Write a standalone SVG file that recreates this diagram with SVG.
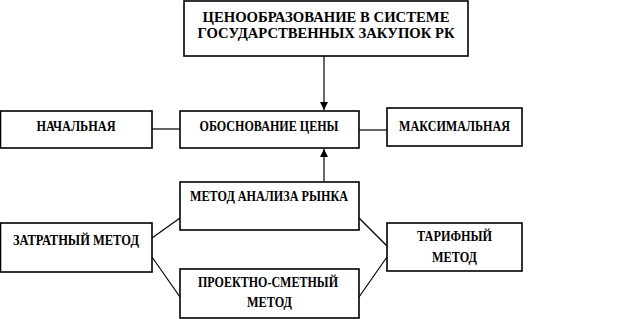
<svg xmlns="http://www.w3.org/2000/svg" width="633" height="319" viewBox="0 0 633 319">
<style>
.box{fill:#fff;stroke:#000;stroke-width:1.6}
.t{font-family:"Liberation Serif","Times New Roman",serif;font-weight:bold;font-size:14px;text-anchor:middle;fill:#000}
.big{font-size:15px}
.c{stroke:#000;stroke-width:1.2;fill:none}
</style>
<defs>
<marker id="ah" viewBox="0 0 10 10" refX="10" refY="5" markerWidth="8" markerHeight="8" markerUnits="userSpaceOnUse" orient="auto">
<path d="M0,0 L10,5 L0,10 z" fill="#000"/>
</marker>
</defs>
<rect width="633" height="319" fill="#fff"/>
<g id="connectors">
<line class="c" x1="324" y1="56" x2="324" y2="110" stroke-width="2" marker-end="url(#ah)"/>
<line class="c" x1="324" y1="181" x2="324" y2="149" stroke-width="2" marker-end="url(#ah)"/>
<line class="c" x1="152" y1="129" x2="180" y2="129"/>
<line class="c" x1="359" y1="130" x2="387" y2="130" stroke="#777"/>
<line class="c" x1="152" y1="238" x2="180" y2="218"/>
<line class="c" x1="152" y1="257" x2="180" y2="297"/>
<line class="c" x1="359" y1="218" x2="387" y2="246"/>
<line class="c" x1="359" y1="297" x2="387" y2="257"/>
</g>
<g id="top">
<rect class="box" x="184" y="1" width="284" height="55"/>
<text class="t big" x="326" y="21.5" textLength="247" lengthAdjust="spacingAndGlyphs">ЦЕНООБРАЗОВАНИЕ В СИСТЕМЕ</text>
<text class="t big" x="326" y="38" textLength="257" lengthAdjust="spacingAndGlyphs">ГОСУДАРСТВЕННЫХ ЗАКУПОК РК</text>
</g>
<g id="nachalnaya">
<rect class="box" x="0.5" y="111" width="151.5" height="37"/>
<text class="t" x="76" y="131" textLength="79" lengthAdjust="spacingAndGlyphs">НАЧАЛЬНАЯ</text>
</g>
<g id="obosnovanie">
<rect class="box" x="180" y="111" width="179" height="37"/>
<text class="t" x="269" y="131" textLength="139" lengthAdjust="spacingAndGlyphs">ОБОСНОВАНИЕ ЦЕНЫ</text>
</g>
<g id="maksimalnaya">
<rect class="box" x="387" y="108" width="135" height="38"/>
<text class="t" x="454.5" y="131" textLength="111" lengthAdjust="spacingAndGlyphs">МАКСИМАЛЬНАЯ</text>
</g>
<g id="rynok">
<rect class="box" x="180" y="182" width="179" height="48"/>
<text class="t" x="269" y="201" textLength="158" lengthAdjust="spacingAndGlyphs">МЕТОД АНАЛИЗА РЫНКА</text>
</g>
<g id="zatratny">
<rect class="box" x="0.5" y="223" width="151.5" height="49"/>
<text class="t" x="76" y="245" textLength="126" lengthAdjust="spacingAndGlyphs">ЗАТРАТНЫЙ МЕТОД</text>
</g>
<g id="tarifny">
<rect class="box" x="387" y="223" width="135" height="48"/>
<text class="t" x="454.5" y="241" textLength="75" lengthAdjust="spacingAndGlyphs">ТАРИФНЫЙ</text>
<text class="t" x="454.5" y="262" textLength="45" lengthAdjust="spacingAndGlyphs">МЕТОД</text>
</g>
<g id="proektno">
<rect class="box" x="180" y="269" width="179" height="49"/>
<text class="t" x="268" y="287" textLength="140" lengthAdjust="spacingAndGlyphs">ПРОЕКТНО-СМЕТНЫЙ</text>
<text class="t" x="269.5" y="307" textLength="45" lengthAdjust="spacingAndGlyphs">МЕТОД</text>
</g>
</svg>
